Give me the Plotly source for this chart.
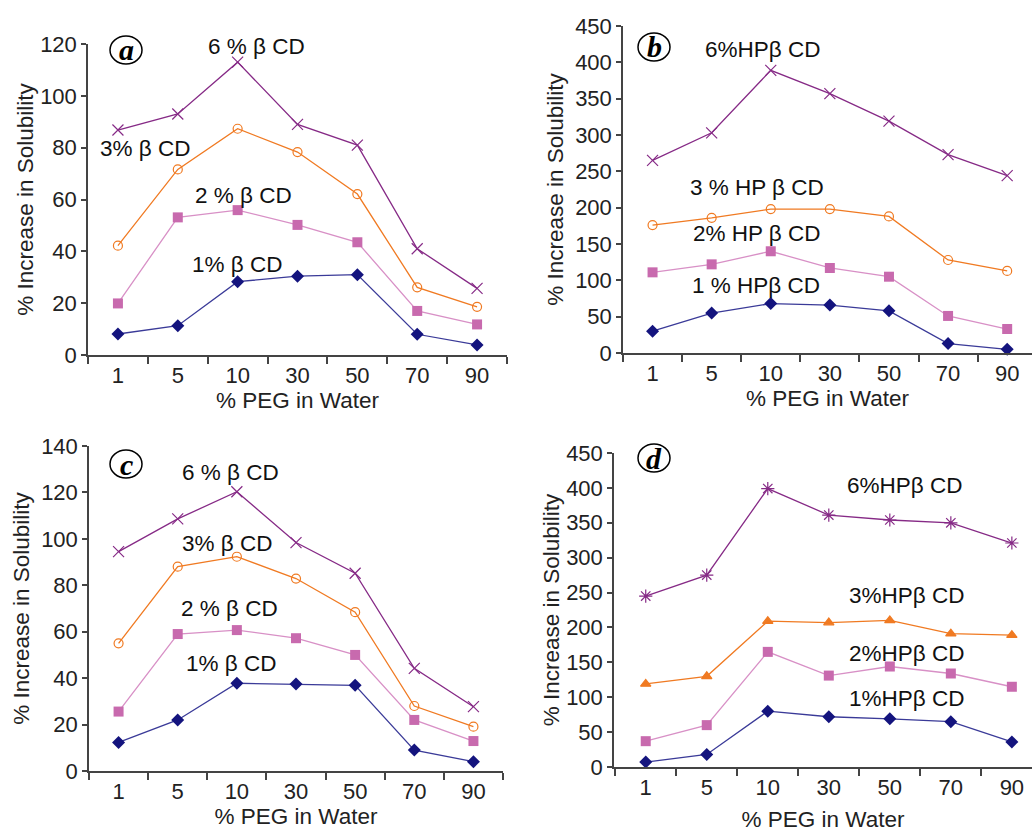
import plotly.graph_objects as go

W, H = 1032, 834

peg = ["1", "5", "10", "30", "50", "70", "90"]

a_1 = [8.1, 11.3, 28.3, 30.4, 31.0, 8.0, 3.9]
a_2 = [19.9, 53.1, 55.9, 50.2, 43.5, 17.0, 11.8]
a_3 = [42.2, 71.6, 87.3, 78.3, 62.1, 26.1, 18.6]
a_6 = [86.8, 93.0, 113.0, 89.0, 81.0, 41.0, 25.7]

b_1 = [30, 55, 68, 66, 58, 13, 5]
b_2 = [111, 122, 140, 117, 105, 51, 33]
b_3 = [176, 186, 198, 198, 188, 128, 113]
b_6 = [265, 303, 389, 357, 319, 273, 244]

c_1 = [12.3, 22.0, 37.8, 37.5, 36.9, 9.0, 4.0]
c_2 = [25.6, 59.0, 60.7, 57.2, 50.0, 22.0, 12.9]
c_3 = [55.0, 88.0, 92.3, 82.9, 68.4, 28.0, 19.1]
c_6 = [94.5, 108.6, 120.3, 98.4, 85.2, 44.2, 27.7]

d_1 = [7, 18, 80, 72, 69, 65, 36]
d_2 = [37, 60, 165, 131, 144, 134, 115]
d_3 = [119, 130, 209, 207, 210, 191, 189]
d_6 = [245, 275, 399, 361, 354, 350, 321]

labels_a = ["1% \u03b2 CD", "2 % \u03b2 CD", "3% \u03b2 CD", "6 % \u03b2 CD"]
labels_c = ["1% \u03b2 CD", "2 % \u03b2 CD", "3% \u03b2 CD", "6 % \u03b2 CD"]
labels_b = ["1 % HP\u03b2 CD", "2% HP \u03b2 CD", "3 % HP \u03b2 CD", "6%HP\u03b2 CD"]
labels_d = ["1%HP\u03b2 CD", "2%HP\u03b2 CD", "3%HP\u03b2 CD", "6%HP\u03b2 CD"]

NAVY = "#14147e"
NAVY_L = "#3a3a98"
PINK = "#c86aae"
PINK_L = "#d890c6"
ORANGE = "#f07a22"
PURPLE = "#862a86"

FONT = "Liberation Sans, Arial, sans-serif"

def px(x):
    return x / W

def py(y):
    return 1 - y / H

fig = go.Figure()

panels = [
    ("", [a_1, a_2, a_3, a_6], "circle-open", "x-thin-open", (88, 507), (355, 44), 120, 20, [-0.5, 6.5], 0, 4),
    ("2", [b_1, b_2, b_3, b_6], "circle-open", "x-thin-open", (623, 1032), (353, 26), 450, 50, [-0.5, 6.42], 5, 2),
    ("3", [c_1, c_2, c_3, c_6], "circle-open", "x-thin-open", (89, 503), (771, 446), 140, 20, [-0.5, 6.5], 5, 3),
    ("4", [d_1, d_2, d_3, d_6], "triangle-up", "asterisk-open", (614, 1032), (767, 453), 450, 50, [-0.52, 6.33], 0, 12),
]

for suf, ser, m3, m6, xr, yr, ymax, dt, xrange, ystand, xstand in panels:
    xa = "x" + suf
    ya = "y" + suf
    s1, s2, s3, s6 = ser
    fig.add_trace(go.Scatter(x=peg, y=s6, xaxis=xa, yaxis=ya, mode="lines+markers",
                             line=dict(color=PURPLE, width=1.3),
                             marker=dict(symbol=m6, size=11, color=PURPLE, line=dict(color=PURPLE, width=1.2)),
                             cliponaxis=False, showlegend=False))
    fig.add_trace(go.Scatter(x=peg, y=s3, xaxis=xa, yaxis=ya, mode="lines+markers",
                             line=dict(color=ORANGE, width=1.3),
                             marker=dict(symbol=m3, size=9, color=ORANGE, line=dict(color=ORANGE, width=1.2)),
                             cliponaxis=False, showlegend=False))
    fig.add_trace(go.Scatter(x=peg, y=s2, xaxis=xa, yaxis=ya, mode="lines+markers",
                             line=dict(color=PINK_L, width=1.3),
                             marker=dict(symbol="square", size=10, color=PINK),
                             cliponaxis=False, showlegend=False))
    fig.add_trace(go.Scatter(x=peg, y=s1, xaxis=xa, yaxis=ya, mode="lines+markers",
                             line=dict(color=NAVY_L, width=1.3),
                             marker=dict(symbol="diamond", size=10, color=NAVY),
                             cliponaxis=False, showlegend=False))

    key_x = "xaxis" + suf
    key_y = "yaxis" + suf
    fig.layout[key_x] = dict(
        domain=[px(xr[0]), px(xr[1])], anchor=ya, type="category", range=xrange,
        tickson="boundaries", ticks="outside", ticklen=7, tickcolor="#444", tickwidth=1.5,
        showline=True, linecolor="#444", linewidth=1.5, showgrid=False, zeroline=False,
        tickfont=dict(family=FONT, size=22, color="#222"),
        title=dict(text="% PEG in Water", font=dict(family=FONT, size=22.5, color="#222"), standoff=xstand),
        automargin=False,
    )
    fig.layout[key_y] = dict(
        domain=[py(yr[0]), py(yr[1])], anchor=xa, range=[0, ymax], dtick=dt,
        ticks="outside", ticklen=5, tickcolor="#444", tickwidth=1.5,
        showline=True, linecolor="#444", linewidth=1.5, showgrid=False, zeroline=False,
        tickfont=dict(family=FONT, size=22, color="#222"),
        title=dict(text="% Increase in Solubility", font=dict(family=FONT, size=22.5, color="#222"), standoff=ystand),
        automargin=False,
    )

label_pos = [
    (labels_a, [(237, 264), (243, 196), (145, 148), (256, 47)]),
    (labels_b, [(756, 285), (757, 233), (757, 188), (762, 50)]),
    (labels_c, [(231, 663), (229, 608), (227, 543), (230, 472)]),
    (labels_d, [(906, 698), (906, 653), (906, 595), (904, 485)]),
]
annotations = []
for texts, poss in label_pos:
    for t, (x, y) in zip(texts, poss):
        annotations.append(dict(text=t, x=px(x), y=py(y), xref="paper", yref="paper",
                                xanchor="center", yanchor="middle", showarrow=False,
                                font=dict(family=FONT, size=22.5, color="#111")))

letters = [("a", 126, 50), ("b", 654, 47), ("c", 126, 464), ("d", 654, 458)]
shapes = []
for ch, cx, cy in letters:
    annotations.append(dict(text="<b><i>" + ch + "</i></b>", x=px(cx), y=py(cy), xref="paper", yref="paper",
                            xanchor="center", yanchor="middle", showarrow=False,
                            font=dict(family="Liberation Serif, Times New Roman, serif", size=30, color="#000")))
    shapes.append(dict(type="circle", xref="paper", yref="paper",
                       x0=px(cx - 16), x1=px(cx + 16), y0=py(cy + 14), y1=py(cy - 14),
                       line=dict(color="#000", width=1.5)))

fig.update_layout(width=W, height=H, margin=dict(l=0, r=0, t=0, b=0),
                  paper_bgcolor="white", plot_bgcolor="white",
                  annotations=annotations, shapes=shapes, showlegend=False)

fig.write_html("out.html", config={"displayModeBar": False},
               post_script="document.body.style.margin='0px';document.body.style.overflow='hidden';")
